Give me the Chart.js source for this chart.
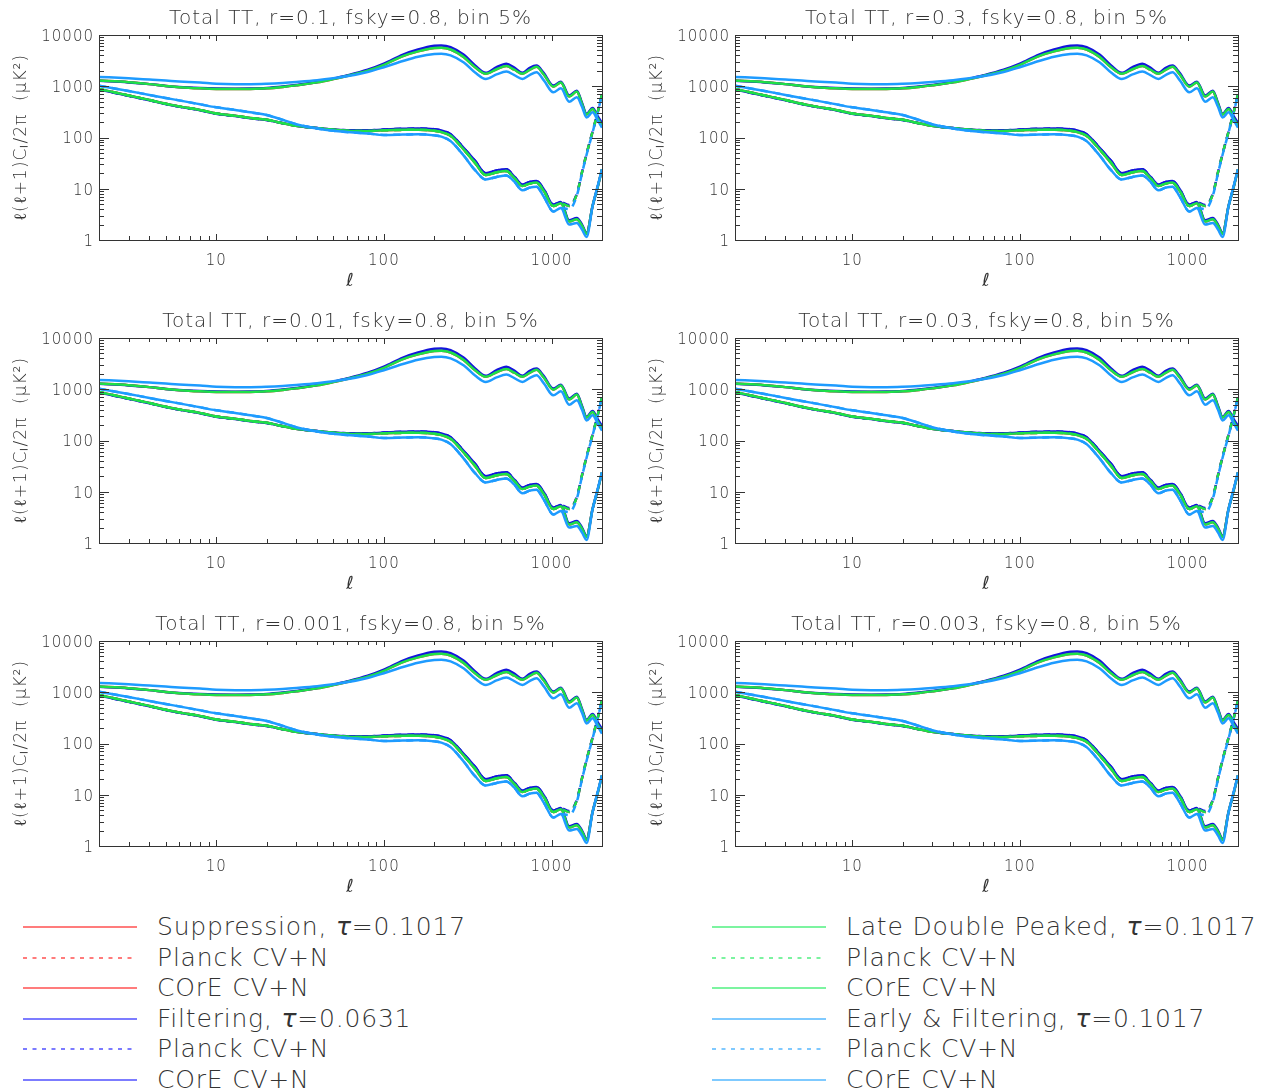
<!DOCTYPE html>
<html>
<head>
<meta charset="utf-8">
<script src="https://cdn.jsdelivr.net/npm/chart.js@4.4.0/dist/chart.umd.min.js"></script>
<style>
  body { margin: 0; background: #fff; }
  #page { position: relative; width: 1272px; height: 1092px; overflow: hidden; background: #fff; }
  .panel { position: absolute; width: 636px; height: 303px; }
  .legend-row { position: absolute; height: 30px; }
  .legend-row svg { position: absolute; top: 0; left: 0; }
  .legend-row span {
    position: absolute; white-space: nowrap; font-family: 'DejaVu Sans', sans-serif;
    font-weight: 200; font-size: 25px; letter-spacing: 0.8px; color: #333; line-height: 30px; top: 0;
  }
</style>
</head>
<body>
<div id="page">
  <div class="panel" style="left:0;top:0"><canvas id="p0" width="636" height="303"></canvas></div>
  <div class="panel" style="left:636px;top:0"><canvas id="p1" width="636" height="303"></canvas></div>
  <div class="panel" style="left:0;top:303px"><canvas id="p2" width="636" height="303"></canvas></div>
  <div class="panel" style="left:636px;top:303px"><canvas id="p3" width="636" height="303"></canvas></div>
  <div class="panel" style="left:0;top:606px"><canvas id="p4" width="636" height="303"></canvas></div>
  <div class="panel" style="left:636px;top:606px"><canvas id="p5" width="636" height="303"></canvas></div>
  <div id="legend"></div>
</div>
<script>
const ell = [2, 3, 4, 5, 6, 8, 10, 13, 16, 20, 25, 30, 40, 50, 60, 80, 100, 130, 160, 200, 220, 250, 300, 350, 405,
    470, 538, 600, 671, 740, 813, 900, 1025, 1137, 1274, 1415, 1520, 1618, 1757, 1880, 2000]

// total TT spectra, l(l+1)Cl/2pi in uK^2
const ttSuppression = [1290, 1200, 1100, 1010, 960, 910, 885, 880, 885, 910, 970, 1040, 1190, 1380, 1580, 2020, 2620, 3870, 4790, 5560, 5640,
    5220, 3700, 2350, 1750, 2150, 2470, 2100, 1750, 2080, 2400, 1700, 980, 1180, 630, 790, 450, 280, 360, 240, 172]
const ttFiltering = [1280, 1190, 1100, 1015, 965, 920, 900, 895, 900, 925, 985, 1055, 1210, 1410, 1620, 2100, 2760, 4150, 5200, 6150, 6250,
    5800, 4100, 2550, 1830, 2350, 2740, 2300, 1830, 2280, 2540, 1800, 1030, 1230, 660, 820, 470, 290, 375, 265, 190]
const ttLateDouble = [1290, 1200, 1100, 1010, 960, 910, 885, 880, 885, 910, 970, 1040, 1190, 1380, 1580, 2020, 2620, 3870, 4790, 5560, 5640,
    5220, 3700, 2350, 1750, 2150, 2470, 2100, 1750, 2080, 2400, 1700, 980, 1180, 630, 790, 450, 280, 360, 240, 172]
const ttEarlyFilter = [1520, 1430, 1350, 1290, 1240, 1180, 1120, 1100, 1100, 1120, 1160, 1210, 1310, 1430, 1560, 1900, 2350, 3100, 3750, 4250, 4300,
    4000, 2900, 1850, 1385, 1700, 1930, 1650, 1385, 1650, 1870, 1300, 760, 910, 500, 610, 400, 245, 310, 220, 155]

// COrE CV+N errors (Planck is the same below l=1274)
const coreSuppression = [885, 660, 540, 455, 405, 345, 295, 265, 240, 221, 190, 169, 152, 141, 136, 134, 138, 141, 142, 136, 128,
    108, 58, 32, 18.6, 21, 22.2, 16.2, 11.3, 12.6, 13.2, 9, 4.6, 5.2, 2.3, 2.55, 1.9, 1.32, 4.6, 10.5, 24]
const coreFiltering = [870, 650, 535, 450, 400, 340, 292, 262, 238, 220, 190, 170, 153, 143, 139, 138, 143, 148, 150, 145, 137,
    116, 62, 35, 20, 22.8, 23.9, 17.2, 12.1, 13.5, 14.1, 9.7, 4.9, 5.5, 2.42, 2.7, 2.0, 1.37, 4.6, 10.5, 24]
const coreLateDouble = [885, 660, 540, 455, 405, 345, 295, 265, 240, 221, 190, 169, 152, 141, 136, 134, 138, 141, 142, 136, 128,
    108, 58, 32, 18.6, 21, 22.2, 16.2, 11.3, 12.6, 13.2, 9, 4.6, 5.2, 2.3, 2.55, 1.9, 1.32, 4.6, 10.5, 24]
const coreEarlyFilter = [1025, 810, 675, 590, 530, 445, 388, 343, 310, 274, 221, 182, 150, 135, 128, 120, 112, 114, 116, 110, 104,
    85, 44, 23, 15.2, 17, 18.2, 13.8, 9.3, 10.5, 11, 7, 3.6, 4.2, 2.0, 2.15, 1.6, 1.15, 4.55, 11, 24]

// Planck CV+N at high l, where the noise takes over
const planckEll = [1274, 1415, 1520, 1618, 1757, 1880, 2000]
const planckSuppression = [4.6, 7.8, 21, 48, 130, 300, 700]
const planckFiltering = [4.8, 8.0, 21, 48, 130, 300, 700]
const planckLateDouble = [4.6, 7.8, 21, 48, 130, 300, 700]
const planckEarlyFilter = [4.0, 7.3, 20, 46, 125, 300, 700]

const panelTitles = [
    'Total TT, r=0.1, fsky=0.8, bin 5%',
    'Total TT, r=0.3, fsky=0.8, bin 5%',
    'Total TT, r=0.01, fsky=0.8, bin 5%',
    'Total TT, r=0.03, fsky=0.8, bin 5%',
    'Total TT, r=0.001, fsky=0.8, bin 5%',
    'Total TT, r=0.003, fsky=0.8, bin 5%'
]
const xTickLabels = [10, 100, 1000]
const yTickLabels = [1, 10, 100, 1000, 10000]
const modelNames = ['Suppression, τ=0.1017', 'Filtering, τ=0.0631', 'Late Double Peaked, τ=0.1017', 'Early & Filtering, τ=0.1017']

const models = [
    { tt: ttSuppression, core: coreSuppression, planck: planckSuppression, color: '#ff2828', legendColor: '#ff5050' },
    { tt: ttFiltering, core: coreFiltering, planck: planckFiltering, color: '#1414dc', legendColor: '#5050ff' },
    { tt: ttLateDouble, core: coreLateDouble, planck: planckLateDouble, color: '#1ee048', legendColor: '#50f080' },
    { tt: ttEarlyFilter, core: coreEarlyFilter, planck: planckEarlyFilter, color: '#1e9bff', legendColor: '#55b8ff' }
]

const FONT = 'DejaVu Sans'
const TEXT = '#333'

const toPoints = (xs, ys) => xs.map((x, i) => ({ x: x, y: ys[i] }))

const buildDatasets = () => {
    const sets = []
    models.forEach((m, i) => {
        const low = ell.filter(l => l < planckEll[0])
        const planck = toPoints(low, m.core).concat(toPoints(planckEll, m.planck))
        // later models drawn on top
        const base = (models.length - 1 - i) * 3
        sets.push({ data: toPoints(ell, m.tt), borderColor: m.color, order: base + 2 })
        sets.push({ data: planck, borderColor: m.color, borderDash: [7, 6], order: base + 1 })
        sets.push({ data: toPoints(ell, m.core), borderColor: m.color, order: base })
    })
    return sets
}

// IDL style frame: box with inward ticks on all four sides
const decadeTicks = (lo, hi) => {
    const out = []
    for (let d = 1; d <= hi; d *= 10) {
        for (let k = 1; k < 10; k++) {
            const v = d * k
            if (v >= lo && v <= hi) out.push(v)
        }
    }
    return out
}

const wideText = {
    id: 'wideText',
    beforeDraw(chart) {
        // the original vector font is spaced out
        chart.ctx.letterSpacing = '1px'
    }
}

const boxTicks = {
    id: 'boxTicks',
    afterDatasetsDraw(chart) {
        const { ctx, chartArea: a, scales: { x, y } } = chart
        ctx.save()
        ctx.strokeStyle = '#333'
        ctx.lineWidth = 1
        ctx.strokeRect(Math.round(a.left) + 0.5, Math.round(a.top) + 0.5, Math.round(a.width), Math.round(a.height))
        ctx.beginPath()
        decadeTicks(x.min, x.max).forEach(v => {
            const len = xTickLabels.includes(v) ? 6 : 4
            const px = Math.round(x.getPixelForValue(v)) + 0.5
            ctx.moveTo(px, a.bottom); ctx.lineTo(px, a.bottom - len)
            ctx.moveTo(px, a.top); ctx.lineTo(px, a.top + len)
        })
        decadeTicks(y.min, y.max).forEach(v => {
            const len = yTickLabels.includes(v) ? 10 : 5
            const py = Math.round(y.getPixelForValue(v)) + 0.5
            ctx.moveTo(a.left, py); ctx.lineTo(a.left + len, py)
            ctx.moveTo(a.right, py); ctx.lineTo(a.right - len, py)
        })
        ctx.stroke()
        ctx.restore()
    }
}

panelTitles.forEach((title, i) => {
    new Chart(document.getElementById('p' + i), {
        type: 'line',
        data: { datasets: buildDatasets() },
        options: {
            responsive: false,
            animation: false,
            devicePixelRatio: 1,
            layout: { padding: { left: 0, right: 34, top: 0, bottom: 0 } },
            elements: {
                point: { radius: 0 },
                line: { borderWidth: 2.5, cubicInterpolationMode: 'monotone', fill: false }
            },
            plugins: {
                legend: { display: false },
                tooltip: { enabled: false },
                title: {
                    display: true,
                    text: title,
                    fullSize: false,
                    color: TEXT,
                    font: { family: FONT, size: 20, weight: '200' },
                    padding: { top: 6.8, bottom: 4.2 }
                }
            },
            scales: {
                x: {
                    type: 'logarithmic',
                    min: 2,
                    max: 2000,
                    afterBuildTicks: s => { s.ticks = xTickLabels.map(v => ({ value: v })) },
                    afterFit: s => { s.height = 63 },
                    grid: { display: false, drawTicks: false, tickLength: 0 },
                    border: { display: false },
                    ticks: {
                        callback: v => String(v), autoSkip: false, maxRotation: 0,
                        color: TEXT, padding: 12, font: { family: FONT, size: 15, weight: '200' }
                    },
                    title: {
                        display: true, text: 'ℓ', color: TEXT,
                        font: { family: FONT, size: 18, style: 'italic', weight: '200' },
                        padding: { top: 0, bottom: 11 }
                    }
                },
                y: {
                    type: 'logarithmic',
                    min: 1,
                    max: 10000,
                    afterBuildTicks: s => { s.ticks = yTickLabels.map(v => ({ value: v })) },
                    afterFit: s => { s.width = 99 },
                    grid: { display: false, drawTicks: false, tickLength: 0 },
                    border: { display: false },
                    ticks: {
                        callback: v => String(v), autoSkip: false,
                        color: TEXT, padding: 5, labelOffset: 2, font: { family: FONT, size: 15, weight: '200' }
                    },
                    title: {
                        display: true, text: 'ℓ(ℓ+1)Cₗ/2π  (μK²)', color: TEXT,
                        font: { family: FONT, size: 17, weight: '200' },
                        padding: { top: 11, bottom: 0 }
                    }
                }
            }
        },
        plugins: [wideText, boxTicks]
    })
})

// legend: two columns, three entries per model
const legend = document.getElementById('legend')
const rowY = [912, 942.5, 973, 1003.5, 1034, 1064.5]
models.forEach((m, i) => {
    const col = i < 2 ? 0 : 1
    const lineX = col === 0 ? 23 : 712
    const textX = col === 0 ? 157 : 846
    const labels = [modelNames[i], 'Planck CV+N', 'COrE CV+N']
    labels.forEach((label, k) => {
        const row = document.createElement('div')
        row.className = 'legend-row'
        row.style.left = '0px'
        row.style.top = rowY[(i % 2) * 3 + k] + 'px'
        const dash = k === 1 ? ' stroke-dasharray="4 5.5"' : ''
        row.innerHTML = '<svg width="1272" height="30"><line x1="' + lineX + '" y1="15" x2="' + (lineX + 114) +
            '" y2="15" stroke="' + m.legendColor + '" stroke-width="1.5"' + dash + '/></svg>'
        const span = document.createElement('span')
        span.style.left = textX + 'px'
        span.innerHTML = label.replace('τ', '<i style="font-weight:400">τ</i>')
        row.appendChild(span)
        legend.appendChild(row)
    })
})
</script>
</body>
</html>
